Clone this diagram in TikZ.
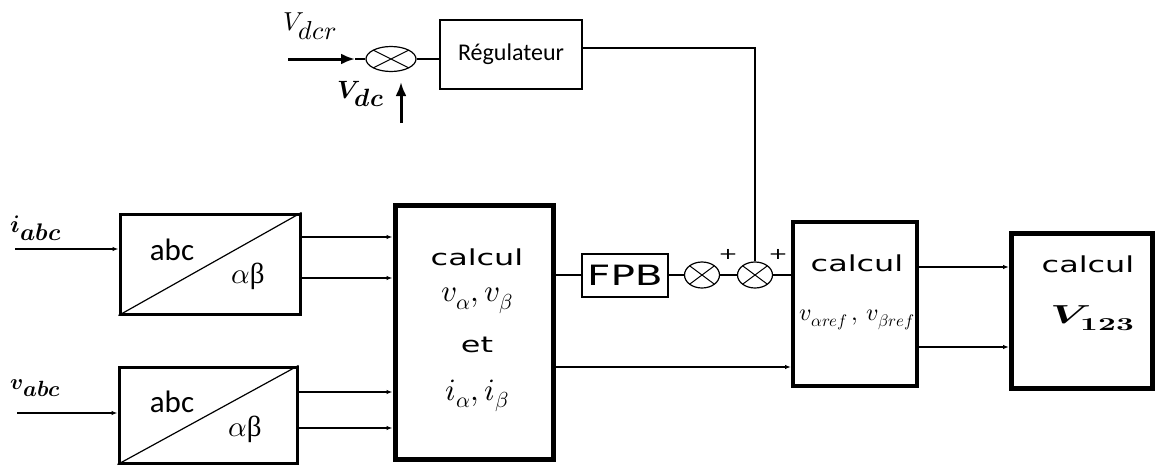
\documentclass[tikz,border=0pt]{standalone}
\usepackage{fontspec}
\usepackage{unicode-math}
\setmathfont{Latin Modern Math}
\usepackage{graphicx}
\usetikzlibrary{shapes.geometric,arrows.meta,calc}
\newfontfamily\widefont[FakeStretch=1.45]{DejaVu Sans}
\newfontfamily\narrowfont{Carlito}
\newfontfamily\serifgreek{Liberation Serif}
\begin{document}
\begin{tikzpicture}[x=1pt,y=-1pt,
  conn/.style={line width=1.2pt},
  arr/.style={conn,-{Latex[length=6pt,width=4.5pt]}},
  bigarr/.style={line width=3pt,-{Latex[length=14pt,width=11pt]}},
  blk/.style={draw,rectangle,inner sep=0pt},
  summer/.style={draw,ellipse,line width=1.2pt,minimum width=35pt,minimum height=26pt,inner sep=0pt,
    path picture={\draw[line width=1pt] (path picture bounding box.north west)--(path picture bounding box.south east)
      (path picture bounding box.south west)--(path picture bounding box.north east);}},
  lbl/.style={inner sep=0pt},
  calctxt/.style={lbl,font=\widefont\fontsize{22}{26}\selectfont},
  abc/.style={lbl,font=\narrowfont\fontsize{31}{33}\selectfont},
  gr/.style={lbl,font=\fontsize{29}{31}\selectfont},
  mth/.style={lbl,font=\fontsize{31}{33}\selectfont},
  plus/.style={lbl,font=\widefont\fontsize{16}{18}\selectfont}]
\useasboundingbox (0,0) rectangle (1164,466);
\fill[white] (0,0) rectangle (1164,466);

% abc/alpha-beta blocks
\node[blk,line width=3pt,minimum width=180pt,minimum height=100pt] (abc1) at (210,264) {};
\draw[conn] (abc1.south west) -- (abc1.north east);
\node[abc] (abc1t) at (172,250) {abc};
\node[gr] (ab1t) at (248,276) {$\alpha$\serifgreek β};

\node[blk,line width=3pt,minimum width=178pt,minimum height=96pt] (abc2) at (208,415) {};
\draw[conn] (abc2.south west) -- (abc2.north east);
\node[abc] (abc2t) at (172,402) {abc};
\node[gr] (ab2t) at (245,429) {$\alpha$\serifgreek β};

% calcul block 1
\node[blk,line width=5pt,minimum width=158pt,minimum height=254pt] (calcA) at (474,332) {};
\node[calctxt] (cA1) at (477,257) {calcul};
\node[mth] (cA2) at (477,301) {$v_{\alpha},v_{\beta}$};
\node[calctxt] (cA3) at (477,345) {et};
\node[mth] (cA4) at (477,396) {$i_{\alpha},i_{\beta}$};

% FPB and summers
\node[blk,line width=2pt,minimum width=86pt,minimum height=43pt,font=\widefont\fontsize{28}{30}\selectfont] (FPB) at (625,275) {FPB};
\node[summer] (sum1) at (702,275) {};
\node[summer] (sum2) at (755,275) {};
\node[plus] (p1) at (728,254) {+};
\node[plus] (p2) at (778,254) {+};

% calcul block 2
\node[blk,line width=4pt,minimum width=124pt,minimum height=164pt] (calcB) at (855,304) {};
\node[calctxt] (cB1) at (857,263) {calcul};
\node[lbl,font=\fontsize{24}{26}\selectfont] (cB2) at (857,320) {$v_{\alpha ref}\,,\,v_{\beta ref}$};

% calcul block 3
\node[blk,line width=5pt,minimum width=141pt,minimum height=155pt] (calcC) at (1082,310.5) {};
\node[calctxt] (cC1) at (1088,264) {calcul};
\node[lbl,font=\fontsize{26}{28}\selectfont] (cC2) at (1093,318) {\scalebox{1.7}[1]{$\symbfit{V}_{\symbf{123}}$}};

% regulator part
\node[blk,line width=2.5pt,minimum width=142pt,minimum height=69pt,font=\narrowfont\fontsize{24}{26}\selectfont] (reg) at (511,54.5) {Régulateur};
\node[summer,minimum width=50pt,minimum height=25pt] (sum0) at (391,59) {};
\node[lbl,font=\fontsize{26}{28}\selectfont] (Vdcr) at (310,26) {$V_{\textstyle dcr}$};
\node[lbl,font=\fontsize{25}{27}\selectfont] (Vdc) at (361,94) {$\symbfit{V}_{\textstyle\symbfit{dc}}$};
\node[lbl,font=\fontsize{24}{26}\selectfont] (iabc) at (36,228) {$\symbfit{i}_{\textstyle\symbfit{abc}}$};
\node[lbl,font=\fontsize{22}{24}\selectfont] (vabc) at (36,388) {$\symbfit{v}_{\textstyle\symbfit{abc}}$};

% connectors
\coordinate (i1) at (15,249);
\draw[arr] (i1) -- (i1 -| abc1.west);
\coordinate (v1) at (17,413);
\draw[arr] (v1) -- (v1 -| abc2.west);
\foreach \yy in {237,278} {\draw[arr] (abc1.east |- 0,\yy) -- (calcA.west |- 0,\yy);}
\foreach \yy in {392,428} {\draw[arr] (abc2.east |- 0,\yy) -- (calcA.west |- 0,\yy);}
\draw[conn] (calcA.east |- FPB.west) -- (FPB.west);
\draw[conn] (FPB) -- (sum1);
\draw[conn] (sum1) -- (sum2);
\draw[conn] (sum2) -- (sum2 -| calcB.west);
\draw[arr] (calcA.east |- 0,367) -- (calcB.west |- 0,367);
\foreach \yy in {267,347} {\draw[arr] (calcB.east |- 0,\yy) -- (calcC.west |- 0,\yy);}
\draw[conn] (reg.east |- 0,48) -| (sum2.north);
\coordinate (d0) at (288,59);
\coordinate (d1) at (355,59);
\draw[conn] (d1) -- (sum0.west);
\draw[bigarr] (d0) -- (d1);
\coordinate (c0) at (401,123);
\coordinate (c1) at (401,82);
\draw[bigarr] (c0) -- (c1);
\draw[conn] (sum0.east) -- (sum0.east -| reg.west);
\end{tikzpicture}
\end{document}
